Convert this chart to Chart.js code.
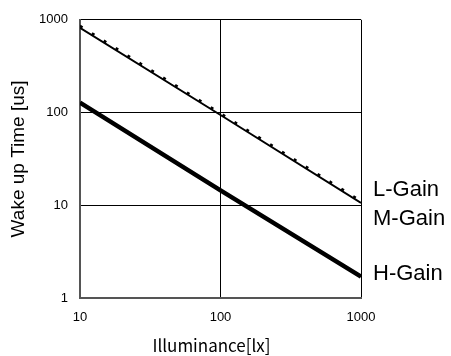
<!DOCTYPE html>
<html>
<head>
<meta charset="utf-8">
<script src="https://cdn.jsdelivr.net/npm/chart.js@4"></script>
<style>
  body { margin: 0; background: #fff; }
  #wrap { width: 451px; height: 356px; position: relative; }
</style>
</head>
<body>
<div id="wrap"><canvas id="wakeup-graph"></canvas></div>
<script>
// Illuminance points (lx) and wake up times (us)
var illuminance = [10, 100, 1000];
var lGain = [860, 98, 11.1];
var mGain = [820, 94, 10.6];
var hGain = [128, 14.5, 1.7];
var seriesNames = ["L-Gain", "M-Gain", "H-Gain"];
var xTicks = [10, 100, 1000];
var yTicks = [1, 10, 100, 1000];
var xTitle = "Illuminance[lx]";

var toPoints = function(values){
	return illuminance.map(function(x, i){ return {x: x, y: values[i]}; });
};

// Series names at the right end of the lines, and the x title (sits a bit left of centre)
var extraText = {
	id: 'extraText',
	afterDraw: function(chart) {
		var ctx = chart.ctx, area = chart.chartArea;
		var offsets = [190, 219, 274];
		ctx.save();
		ctx.fillStyle = '#000';
		ctx.font = '22px "Liberation Sans", Arial, sans-serif';
		ctx.textBaseline = 'middle';
		seriesNames.forEach(function(name, i){
			ctx.fillText(name, area.right + 12, offsets[i]);
		});
		ctx.font = '17px "Noto Sans CJK JP", sans-serif';
		ctx.textAlign = 'center';
		ctx.fillText(xTitle, (area.left + area.right) / 2 - 9, 346);
		ctx.restore();
	}
};

var ctx = document.getElementById("wakeup-graph").getContext("2d");
var wakeChart = new Chart(ctx, {
	type: 'line',
	data: {
		datasets: [
		{
			label: seriesNames[0],
			data: toPoints(lGain),
			borderColor: "#000",
			borderWidth: 2.5,
			borderDash: [3, 11],
			pointRadius: 0,
			fill: false
		},
		{
			label: seriesNames[1],
			data: toPoints(mGain),
			borderColor: "#000",
			borderWidth: 2,
			pointRadius: 0,
			fill: false
		},
		{
			label: seriesNames[2],
			data: toPoints(hGain),
			borderColor: "#000",
			borderWidth: 4.5,
			pointRadius: 0,
			fill: false
		}
		]
	},
	options: {
		responsive: true,
		maintainAspectRatio: false,
		animation: false,
		layout: { padding: { left: 0, right: 90, top: 15, bottom: 0 } },
		plugins: {
			legend: { display: false },
			tooltip: { enabled: false }
		},
		scales: {
			x: {
				type: 'logarithmic',
				min: 10,
				max: 1000,
				afterBuildTicks: function(scale){ scale.ticks = xTicks.map(function(v){ return {value: v}; }); },
				afterFit: function(scale){ scale.height = 58; },
				grid: { color: "#000", lineWidth: 1, drawTicks: false },
				border: { color: "#555", width: 2 },
				ticks: {
					color: "#000",
					padding: 12,
					maxRotation: 0,
					font: { family: '"Liberation Sans", Arial, sans-serif', size: 13 },
					callback: function(v){ return String(v); }
				}
			},
			y: {
				type: 'logarithmic',
				min: 1,
				max: 1000,
				afterBuildTicks: function(scale){ scale.ticks = yTicks.map(function(v){ return {value: v}; }); },
				afterFit: function(scale){ scale.width = 80; },
				grid: { color: "#000", lineWidth: 1, drawTicks: false },
				border: { color: "#555", width: 2 },
				ticks: {
					color: "#000",
					padding: 12,
					font: { family: '"Liberation Sans", Arial, sans-serif', size: 13 },
					callback: function(v){ return String(v); }
				},
				title: {
					display: true,
					text: "Wake up Time [us]",
					color: "#000",
					font: { family: '"Liberation Sans", Arial, sans-serif', size: 19 },
					padding: { top: 7, bottom: 0 }
				}
			}
		}
	},
	plugins: [extraText]
});
</script>
</body>
</html>
